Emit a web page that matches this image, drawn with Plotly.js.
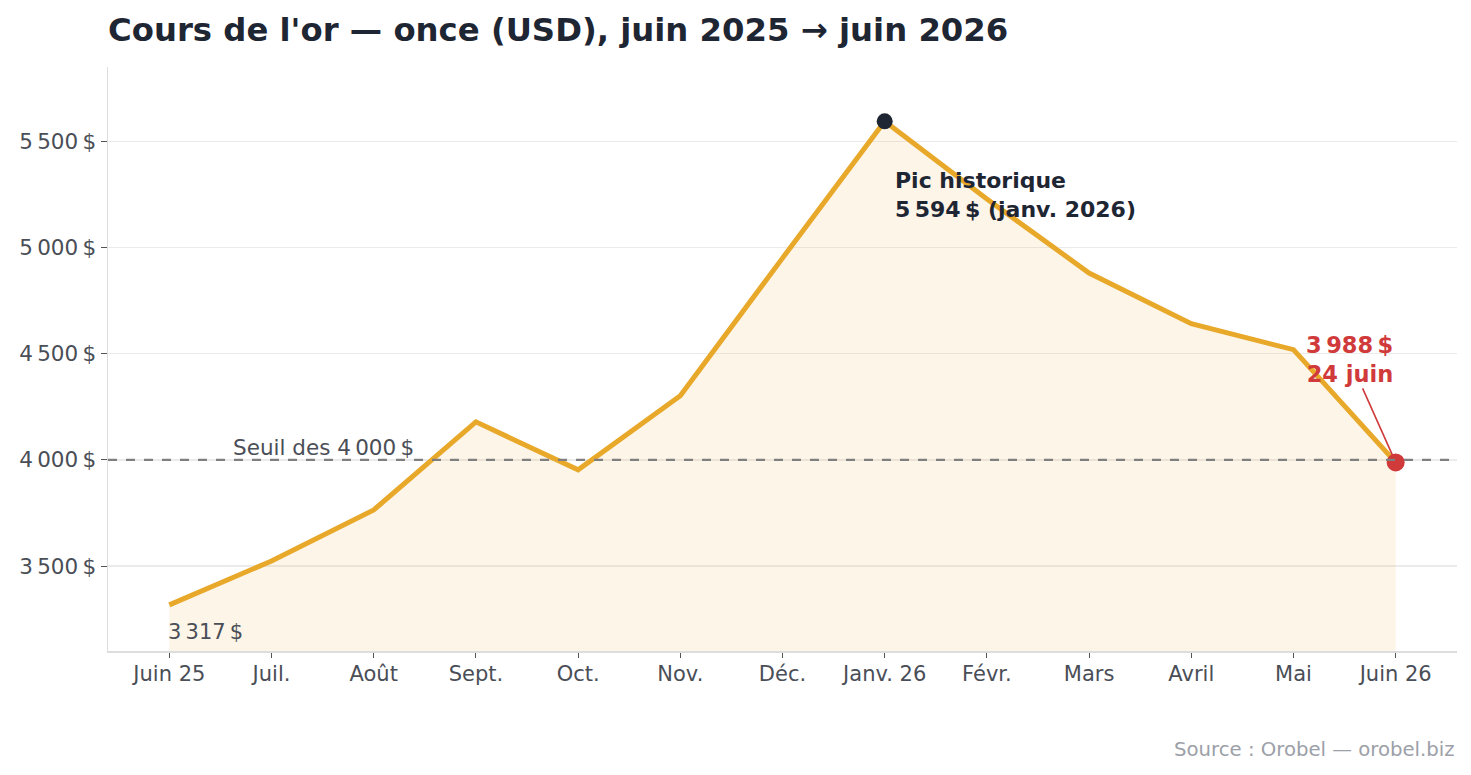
<!DOCTYPE html>
<html>
<head>
<meta charset="utf-8">
<script src="https://cdn.plot.ly/plotly-3.0.1.min.js"></script>
<style>html,body{margin:0;padding:0;background:#fff}#chart{width:1471px;height:775px}</style>
</head>
<body>
<div id="chart"></div>
<script>
const months = ["Juin 25","Juil.","Août","Sept.","Oct.","Nov.","Déc.","Janv. 26","Févr.","Mars","Avril","Mai","Juin 26"];
const prices = [3317, 3524, 3764, 4179, 3953, 4302, 4950, 5594, 5228, 4880, 4641, 4519, 3988];
const yTickVals = [3500, 4000, 4500, 5000, 5500];
const yTickText = ["3\u202f500\u202f$","4\u202f000\u202f$","4\u202f500\u202f$","5\u202f000\u202f$","5\u202f500\u202f$"];
const threshold = 4000;
const peakIdx = 7;
const lastIdx = 12;

const NNBSP = "\u202f";
const fmt = v => String(v).replace(/\B(?=(\d{3})+(?!\d))/g, NNBSP) + NNBSP + "$";

const xIdx = months.map((_, i) => i);
const FONT = "DejaVu Sans, Verdana, sans-serif";

const traces = [
  {
    x: xIdx, y: prices, type: "scatter", mode: "lines",
    line: {color: "#E8A82A", width: 5},
    fill: "tozeroy", fillcolor: "rgba(232,168,42,0.11)",
    hoverinfo: "skip", showlegend: false
  },
  {
    x: [peakIdx], y: [prices[peakIdx]], type: "scatter", mode: "markers",
    marker: {color: "#1F2633", size: 16}, showlegend: false
  },
  {
    x: [lastIdx], y: [prices[lastIdx]], type: "scatter", mode: "markers",
    marker: {color: "#D03A3A", size: 18}, showlegend: false
  }
];

const layout = {
  width: 1471, height: 775,
  paper_bgcolor: "#fff", plot_bgcolor: "#fff",
  margin: {l: 108, r: 14, t: 67, b: 124},
  font: {family: FONT, color: "#4A4E57", size: 21},
  title: {
    text: "<b>Cours de l'or — once (USD), juin 2025 → juin 2026</b>",
    x: 0, xref: "paper", xanchor: "left", y: 0.962, yanchor: "middle",
    font: {family: FONT, size: 32.3, color: "#1F2633"}
  },
  xaxis: {
    range: [-0.6, 12.6],
    tickvals: xIdx, ticktext: months,
    showgrid: false, zeroline: false,
    showline: true, linecolor: "#DDDDDD", linewidth: 1.5,
    ticks: "outside", ticklen: 5, tickcolor: "#555",
    ticklabelstandoff: -2,
    tickfont: {size: 21, color: "#4A4E57"}
  },
  yaxis: {
    range: [3100, 5850],
    tickvals: yTickVals, ticktext: yTickText,
    showgrid: true, gridcolor: "#EBEBEB", gridwidth: 1.5,
    zeroline: false,
    showline: true, linecolor: "#DDDDDD", linewidth: 1.5,
    ticks: "outside", ticklen: 6, tickcolor: "#555",
    tickfont: {size: 21.5, color: "#4A4E57"}
  },
  shapes: [
    {type: "line", xref: "paper", x0: 0, x1: 1, yref: "y", y0: threshold, y1: threshold,
     line: {color: "#7F7F7F", width: 2.2, dash: "dash"}}
  ],
  annotations: [
    {x: 0.6, y: threshold, xref: "x", yref: "y", xanchor: "left", yanchor: "bottom",
     text: "Seuil des " + fmt(threshold), showarrow: false, yshift: -2,
     font: {size: 21.5, color: "#4A4E57"}},
    {x: 0, y: prices[0], xref: "x", yref: "y", xanchor: "left", yanchor: "top",
     text: fmt(prices[0]), showarrow: false, xshift: -3, yshift: -13,
     font: {size: 21, color: "#4A4E57"}},
    {x: peakIdx, y: prices[peakIdx], xref: "x", yref: "y", xanchor: "left", yanchor: "top",
     text: "<b>Pic historique<br>" + fmt(prices[peakIdx]) + " (janv. 2026)</b>", align: "left",
     showarrow: false, xshift: 8, yshift: -45,
     font: {size: 22, color: "#1F2633"}},
    {x: lastIdx, y: prices[lastIdx], xref: "x", yref: "y",
     text: "<b>" + fmt(prices[lastIdx]) + "<br>24 juin</b>", align: "right",
     showarrow: true, ax: -46, ay: -103, arrowhead: 0, arrowwidth: 1.6, arrowcolor: "#D03A3A",
     standoff: 6, startstandoff: 0,
     font: {size: 22.5, color: "#D03A3A"}},
    {x: 1, y: -0.169, xref: "paper", yref: "paper", xanchor: "right", yanchor: "middle",
     text: "Source : Orobel — orobel.biz", showarrow: false,
     font: {size: 19.7, color: "#9CA0A8"}}
  ]
};

Plotly.newPlot("chart", traces, layout, {displayModeBar: false, staticPlot: true});
</script>
</body>
</html>
